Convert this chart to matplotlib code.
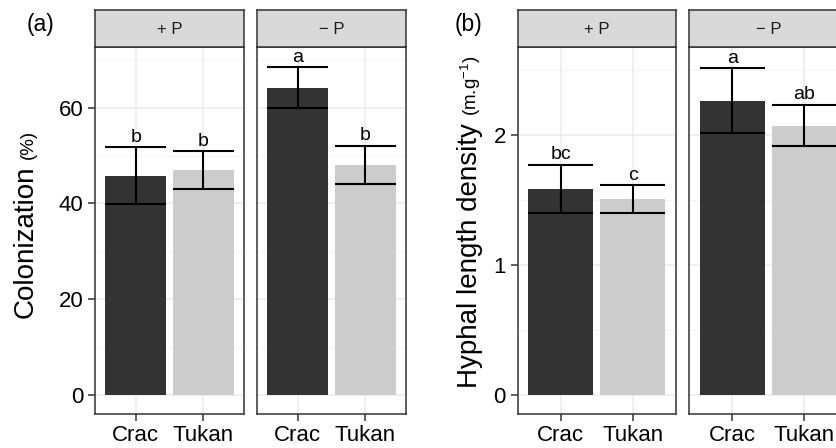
import matplotlib
matplotlib.use("Agg")
import matplotlib.pyplot as plt
from matplotlib.ticker import MultipleLocator

plt.rcParams['font.family'] = ['Liberation Sans', 'DejaVu Sans']

cultivars = ["Crac", "Tukan"]
facets = ["+ P", "\u2212 P"]

# Panel (a): colonization (%)
col_mean = [[45.8, 47.0], [64.1, 48.1]]
col_lo = [[39.9, 43.1], [59.9, 44.1]]
col_hi = [[51.7, 50.9], [68.5, 52.0]]
col_letters = [["b", "b"], ["a", "b"]]

# Panel (b): hyphal length density (m.g-1)
hld_mean = [[1.585, 1.505], [2.262, 2.069]]
hld_lo = [[1.398, 1.398], [2.018, 1.918]]
hld_hi = [[1.77, 1.615], [2.513, 2.231]]
hld_letters = [["bc", "c"], ["a", "ab"]]

W, H = 837, 448
fig = plt.figure(figsize=(W / 100, H / 100), dpi=100)
fig.patch.set_facecolor("white")

bar_colors = ["#333333", "#CCCCCC"]
edge = "#333333"


def px_axes(x0, x1, y0, y1):
    return fig.add_axes([x0 / W, (H - y1) / H, (x1 - x0) / W, (y1 - y0) / H])


def draw_panel(x0, x1, facet, means, los, his, letters, ylim, major, minor, show_y):
    ax = px_axes(x0, x1, 47, 414)
    xs = [1, 2]
    ax.set_xlim(0.4, 2.6)
    ax.set_ylim(*ylim)
    ax.yaxis.set_major_locator(MultipleLocator(major))
    ax.yaxis.set_minor_locator(MultipleLocator(minor))
    ax.set_xticks(xs)
    ax.set_xticklabels(cultivars)
    ax.grid(True, which="major", color="#EBEBEB", lw=1.1, zorder=0)
    ax.grid(True, which="minor", axis="y", color="#F2F2F2", lw=0.6, zorder=0)
    ax.set_axisbelow(True)
    ax.bar(xs, means, width=0.9, color=bar_colors, zorder=2)
    for x, lo, hi, lab in zip(xs, los, his, letters):
        ax.vlines(x, lo, hi, color="black", lw=1.5, zorder=3)
        ax.hlines([lo, hi], x - 0.45, x + 0.45, color="black", lw=1.5, zorder=3)
        ax.annotate(lab, (x, hi), xytext=(0, 4.0), textcoords="offset points",
                    ha="center", va="baseline", fontsize=14, zorder=4)
    for s in ax.spines.values():
        s.set_color(edge)
        s.set_linewidth(1.1)
    ax.tick_params(axis="both", which="major", color=edge, length=5, width=1.1,
                   labelsize=16, labelcolor="black")
    ax.tick_params(axis="y", which="major", pad=3.5)
    ax.tick_params(axis="x", which="major", pad=3)
    ax.tick_params(axis="y", which="minor", length=0)
    if not show_y:
        ax.tick_params(axis="y", which="major", length=0, labelleft=False)
    # strip
    st = px_axes(x0, x1, 10, 47)
    st.set_facecolor("#D9D9D9")
    st.set_xticks([])
    st.set_yticks([])
    for s in st.spines.values():
        s.set_color(edge)
        s.set_linewidth(1.1)
    st.text(0.5, 0.47, facet, ha="center", va="center",
            fontsize=12, transform=st.transAxes, color="#1A1A1A")
    return ax


ylimA = (-4.0, 72.7)
ylimB = (-0.146, 2.677)
panelsA = [(95, 244), (257, 406)]
panelsB = [(517.7, 676), (689.3, 847.6)]
for i, (x0, x1) in enumerate(panelsA):
    draw_panel(x0, x1, facets[i], col_mean[i], col_lo[i], col_hi[i],
               col_letters[i], ylimA, 20, 10, i == 0)
for i, (x0, x1) in enumerate(panelsB):
    draw_panel(x0, x1, facets[i], hld_mean[i], hld_lo[i], hld_hi[i],
               hld_letters[i], ylimB, 1, 0.5, i == 0)


def rot_label(big, small, x_base, y_start):
    r = fig.canvas.get_renderer()
    tb = fig.text(x_base / W, (H - y_start) / H, big, rotation=90, rotation_mode="anchor",
                  fontsize=20, ha="left", va="baseline")
    bb = tb.get_window_extent(r)
    gap = 7
    fig.text(x_base / W, (H - y_start + bb.height + gap) / H, small, rotation=90,
             rotation_mode="anchor", fontsize=13.5, ha="left", va="baseline")


rot_label("Colonization", "(%)", 33, 318)
rot_label("Hyphal length density", r"(m.g$^{\mathregular{-1}}$)", 477, 388)

fig.text(41 / W, (H - 24) / H, "(a)", fontsize=16.5, ha="center", va="center")
fig.text(469 / W, (H - 24) / H, "(b)", fontsize=16.5, ha="center", va="center")

fig.savefig("out.png", dpi=100, facecolor="white")
